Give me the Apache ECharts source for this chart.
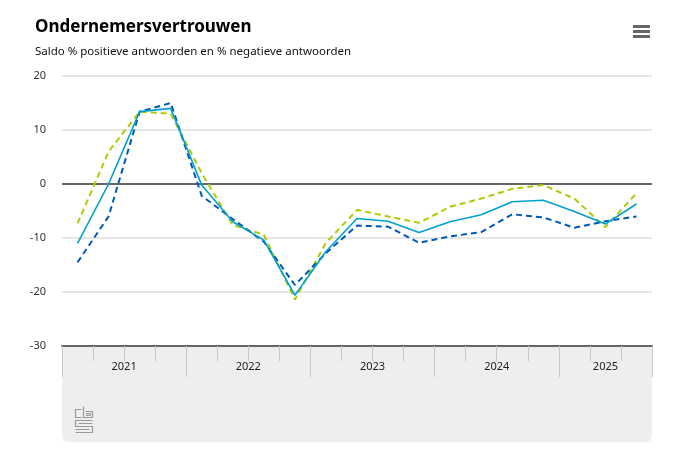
<!DOCTYPE html>
<html><head><meta charset="utf-8">
<script src="https://cdn.jsdelivr.net/npm/echarts@6/dist/echarts.min.js"></script>
<style>html,body{margin:0;padding:0;background:#fff}#c{width:682px;height:462px}</style>
</head><body><div id="c"></div>
<script>
var quarters = ['2021 Q1','2021 Q2','2021 Q3','2021 Q4','2022 Q1','2022 Q2','2022 Q3','2022 Q4','2023 Q1','2023 Q2','2023 Q3','2023 Q4','2024 Q1','2024 Q2','2024 Q3','2024 Q4','2025 Q1','2025 Q2','2025 Q3'];
var years = ['2021','2022','2023','2024','2025'];
var yearStarts = [0,4,8,12,16,19];
var yearCenters = [2,6,10,14,17.5];
var totaal = [-11.0,0.0,13.4,14.0,-0.2,-7.0,-10.4,-20.6,-12.5,-6.4,-6.9,-9.0,-7.0,-5.7,-3.3,-3.0,-5.1,-7.4,-3.7];
var oordeel = [-14.5,-6.0,13.4,15.0,-2.2,-6.5,-10.7,-18.7,-12.8,-7.7,-7.9,-10.9,-9.7,-8.9,-5.6,-6.2,-8.1,-6.9,-6.0];
var verwachting = [-7.3,6.0,13.4,13.0,2.0,-7.6,-9.4,-21.4,-10.9,-4.8,-6.0,-7.2,-4.2,-2.7,-0.9,-0.2,-2.7,-8.0,-1.7];
var yTicks = {min:-30,max:20,interval:10};

var G = {left:62,right:30,top:76,bottom:116};
var W = 682, H = 462;
var plotR = W - G.right, plotB = H - G.bottom;

var chart = echarts.init(document.getElementById('c'), null, {renderer:'canvas'});
var dash = [6,4];
chart.setOption({
  animation:false,
  backgroundColor:'#fff',
  title:{
    text:'Ondernemersvertrouwen',
    subtext:'Saldo % positieve antwoorden en % negatieve antwoorden',
    left:30, top:14, itemGap:10,
    textStyle:{fontFamily:'Noto Sans',fontSize:17,fontWeight:'bold',color:'#000'},
    subtextStyle:{fontFamily:'Noto Sans',fontSize:11.5,color:'#111'}
  },
  graphic:[
    {type:'rect',z:-10,shape:{x:G.left,y:plotB,width:plotR-G.left,height:96,r:[0,0,6,6]},style:{fill:'#eeeeee'}},
    {type:'rect',shape:{x:633,y:25,width:17,height:3},style:{fill:'#666'}},
    {type:'rect',shape:{x:633,y:30,width:17,height:3},style:{fill:'#666'}},
    {type:'rect',shape:{x:633,y:35,width:17,height:3},style:{fill:'#666'}},
    {type:'group',left:73,top:404,children:[
      {type:'polyline',shape:{points:[[6,0],[0,0],[0,8],[6,8]]},style:{stroke:'#9a9a9a',fill:null,lineWidth:1.2}},
      {type:'polyline',shape:{points:[[8,-3],[8,8],[17,8],[17,2],[10,2]]},style:{stroke:'#9a9a9a',fill:null,lineWidth:1.2}},
      {type:'rect',shape:{x:11,y:4,width:4,height:2},style:{stroke:'#9a9a9a',fill:null,lineWidth:1}},
      {type:'polyline',shape:{points:[[17,11],[0,11],[0,17],[17,17],[17,23],[0,23]]},style:{stroke:'#9a9a9a',fill:null,lineWidth:1.2}},
      {type:'polyline',shape:{points:[[17,14],[3,14]]},style:{stroke:'#9a9a9a',fill:null,lineWidth:1}},
      {type:'polyline',shape:{points:[[0,20],[14,20]]},style:{stroke:'#9a9a9a',fill:null,lineWidth:1}}
    ]}
  ],
  grid:{left:G.left,right:G.right,top:G.top,bottom:G.bottom},
  xAxis:[{
    type:'category', data:quarters, boundaryGap:true,
    axisLine:{onZero:false,lineStyle:{color:'#666',width:2}},
    axisTick:{show:true,interval:0,length:15,lineStyle:{color:'#c8c8c8',width:1}},
    axisLabel:{show:false,interval:0},
    splitLine:{show:false}
  },{
    type:'value', min:0, max:quarters.length, position:'bottom',
    axisLine:{show:false,onZero:false},
    axisTick:{show:true,length:31,customValues:yearStarts,lineStyle:{color:'#c8c8c8',width:1}},
    axisLabel:{show:true,customValues:yearCenters,margin:15,fontFamily:'Noto Sans',fontSize:11,color:'#222',
      formatter:function(v){var i=yearCenters.indexOf(v);return i>=0?years[i]:'';}},
    splitLine:{show:false}
  }],
  yAxis:{
    type:'value', min:yTicks.min, max:yTicks.max, interval:yTicks.interval,
    axisLine:{show:false}, axisTick:{show:false},
    axisLabel:{margin:16,fontFamily:'Noto Sans',fontSize:11,color:'#333'},
    splitLine:{lineStyle:{color:'#e6e6e6',width:2}}
  },
  series:[
    {name:'Verwachting',type:'line',data:verwachting,symbol:'none',lineStyle:{color:'#afcb05',width:2,type:dash},z:3},
    {name:'Oordeel',type:'line',data:oordeel,symbol:'none',lineStyle:{color:'#0058b8',width:2,type:dash},z:4},
    {name:'Ondernemersvertrouwen',type:'line',data:totaal,symbol:'none',lineStyle:{color:'#00a1cd',width:1.6},z:5,
      markLine:{silent:true,symbol:'none',label:{show:false},lineStyle:{color:'#666',width:2,type:'solid'},data:[{yAxis:0}],z:2}}
  ]
});
</script></body></html>
